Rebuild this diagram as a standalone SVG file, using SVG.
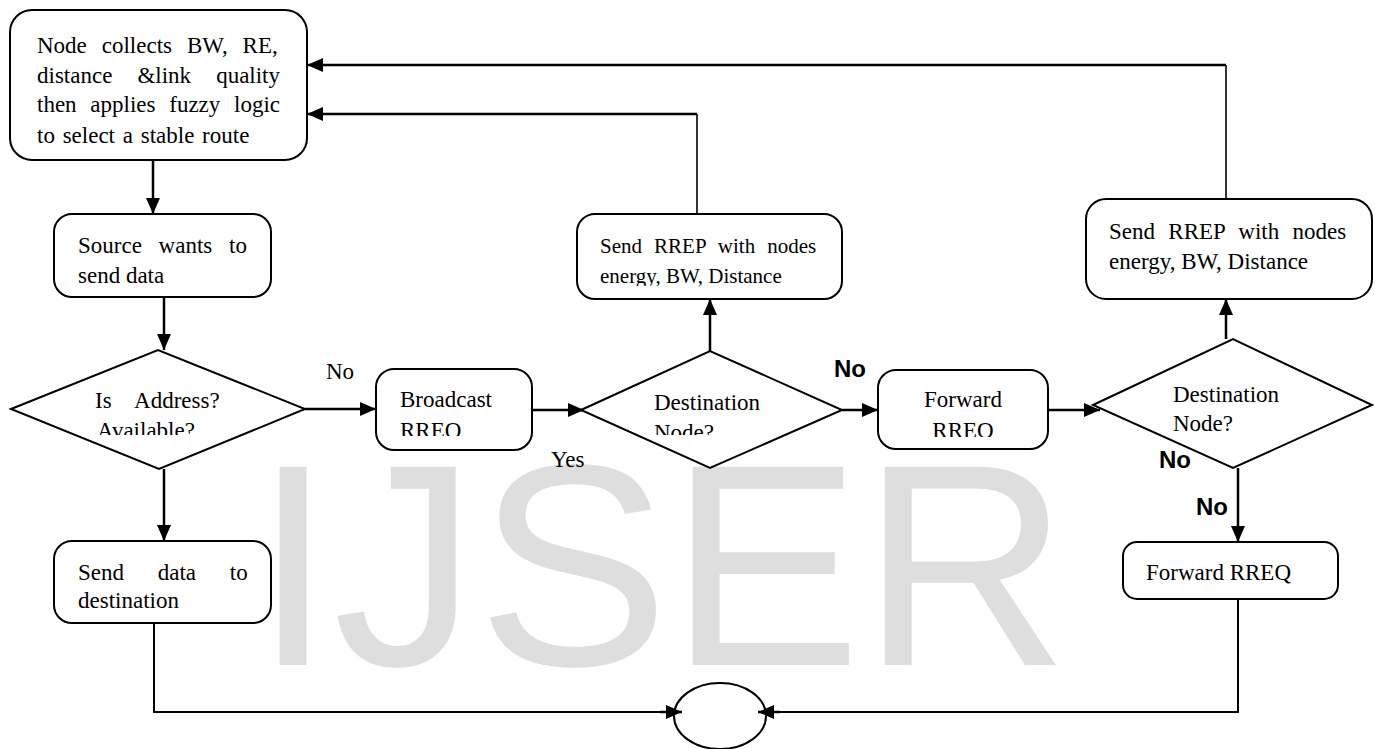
<svg xmlns="http://www.w3.org/2000/svg" width="1375" height="749" viewBox="0 0 1375 749">
<style>
  .box{fill:#fff;stroke:#000;stroke-width:2}
  .dia{fill:#fff;stroke:#000;stroke-width:2}
  .t{font-family:"Liberation Serif","Times New Roman",serif;font-size:23px;fill:#000}
  .t21{font-family:"Liberation Serif","Times New Roman",serif;font-size:21px;fill:#000}
  .b{font-family:"Liberation Sans",Arial,sans-serif;font-size:24px;font-weight:bold;fill:#000}
  .c{fill:none;stroke:#000;stroke-width:2.5}
  .thin{fill:none;stroke:#000;stroke-width:1.6}
  .bot{fill:none;stroke:#000;stroke-width:2}
  .wm{font-family:"Liberation Sans",Arial,sans-serif;font-size:288px;fill:#dedede}
</style>
<defs>
  <marker id="ah" markerUnits="userSpaceOnUse" markerWidth="17" markerHeight="15" refX="16" refY="7" orient="auto">
    <path d="M0,0 L16,7 L0,14 z" fill="#000"/>
  </marker>
  <clipPath id="clipAvail"><rect x="0" y="380" width="320" height="55"/></clipPath>
  <clipPath id="clipBc"><rect x="380" y="380" width="150" height="56"/></clipPath>
  <clipPath id="clipDn"><rect x="600" y="380" width="200" height="55"/></clipPath>
  <clipPath id="clipRrep"><rect x="580" y="220" width="260" height="66"/></clipPath>
  <clipPath id="clipFw"><rect x="880" y="380" width="165" height="57"/></clipPath>
  <clipPath id="clipSd"><rect x="56" y="550" width="210" height="61"/></clipPath>
</defs>

<text class="wm" x="253" y="665">IJSER</text>

<g id="connectors">
  <path class="thin" d="M1226,199 V65"/>
  <path class="c" d="M1226,65 H307" marker-end="url(#ah)"/>
  <path class="thin" d="M697,214 V114"/>
  <path class="c" d="M697,114 H307" marker-end="url(#ah)"/>
  <path class="c" d="M153,160 V214" marker-end="url(#ah)"/>
  <path class="c" d="M164,297 V350" marker-end="url(#ah)"/>
  <path class="c" d="M305,409 H376" marker-end="url(#ah)"/>
  <path class="c" d="M532,410 H584" marker-end="url(#ah)"/>
  <path class="c" d="M710,351 V299" marker-end="url(#ah)"/>
  <path class="c" d="M842,410 H878" marker-end="url(#ah)"/>
  <path class="c" d="M1048,410 H1100" marker-end="url(#ah)"/>
  <path class="c" d="M1226,339 V299" marker-end="url(#ah)"/>
  <path class="c" d="M1238,468 V542" marker-end="url(#ah)"/>
  <path class="c" d="M164,469 V541" marker-end="url(#ah)"/>
  <path class="bot" d="M154,623 V712 H670"/>
  <path class="c" d="M660,712 H682" marker-end="url(#ah)"/>
  <path class="bot" d="M1238,599 V712 H770"/>
  <path class="c" d="M780,712 H758" marker-end="url(#ah)"/>
</g>

<g id="node-collect">
  <rect class="box" x="10" y="10" width="297" height="150" rx="22"/>
  <text class="t" x="37" y="53" word-spacing="9.2">Node collects BW, RE,</text>
  <text class="t" x="37" y="83" word-spacing="19.3">distance &amp;link quality</text>
  <text class="t" x="37" y="112" word-spacing="8">then applies fuzzy logic</text>
  <text class="t" x="37" y="143" word-spacing="2">to select a stable route</text>
</g>

<g id="node-source">
  <rect class="box" x="54" y="214" width="217" height="83" rx="18"/>
  <text class="t" x="78" y="253" word-spacing="11">Source wants to</text>
  <text class="t" x="78" y="283">send data</text>
</g>

<g id="node-address">
  <polygon class="dia" points="11,409 158,350 305,409 159,469"/>
  <text class="t" x="95" y="408" word-spacing="18">Is Address?</text>
  <g clip-path="url(#clipAvail)"><text class="t" x="97" y="438">Available?</text></g>
</g>

<g id="node-broadcast">
  <rect class="box" x="376" y="369" width="156" height="81" rx="18"/>
  <text class="t" x="400" y="407">Broadcast</text>
  <g clip-path="url(#clipBc)"><text class="t" x="400" y="438">RREQ</text></g>
</g>

<g id="node-dest1">
  <polygon class="dia" points="581,410 710,351 842,410 710,468"/>
  <text class="t" x="654" y="410">Destination</text>
  <g clip-path="url(#clipDn)"><text class="t" x="654" y="440">Node?</text></g>
</g>

<g id="node-rrep1">
  <rect class="box" x="577" y="214" width="265" height="85" rx="18"/>
  <text class="t21" x="600" y="253" word-spacing="6.8">Send RREP with nodes</text>
  <g clip-path="url(#clipRrep)"><text class="t21" x="600" y="283">energy, BW, Distance</text></g>
</g>

<g id="node-forward1">
  <rect class="box" x="878" y="370" width="170" height="79" rx="18"/>
  <text class="t" x="963" y="407" text-anchor="middle">Forward</text>
  <g clip-path="url(#clipFw)"><text class="t" x="963" y="438" text-anchor="middle">RREQ</text></g>
</g>

<g id="node-dest2">
  <polygon class="dia" points="1093,405 1233,339 1372,405 1233,468"/>
  <text class="t" x="1173" y="402">Destination</text>
  <text class="t" x="1173" y="431">Node?</text>
</g>

<g id="node-rrep2">
  <rect class="box" x="1086" y="199" width="286" height="100" rx="20"/>
  <text class="t" x="1109" y="239" word-spacing="7.6">Send RREP with nodes</text>
  <text class="t" x="1109" y="269">energy, BW, Distance</text>
</g>

<g id="node-forward2">
  <rect class="box" x="1123" y="542" width="215" height="57" rx="14"/>
  <text class="t" x="1146" y="580">Forward RREQ</text>
</g>

<g id="node-senddata">
  <rect class="box" x="54" y="541" width="217" height="82" rx="18"/>
  <text class="t" x="78" y="580" word-spacing="28">Send data to</text>
  <g clip-path="url(#clipSd)"><text class="t" x="78" y="608">destination</text></g>
</g>

<g id="node-end">
  <ellipse cx="720" cy="716" rx="46" ry="33" fill="none" stroke="#000" stroke-width="2"/>
</g>

<g id="labels">
  <text class="t" x="326" y="379">No</text>
  <text class="t" x="551" y="467">Yes</text>
  <text class="b" x="834" y="377">No</text>
  <text class="b" x="1159" y="468">No</text>
  <text class="b" x="1196" y="515">No</text>
</g>
</svg>
